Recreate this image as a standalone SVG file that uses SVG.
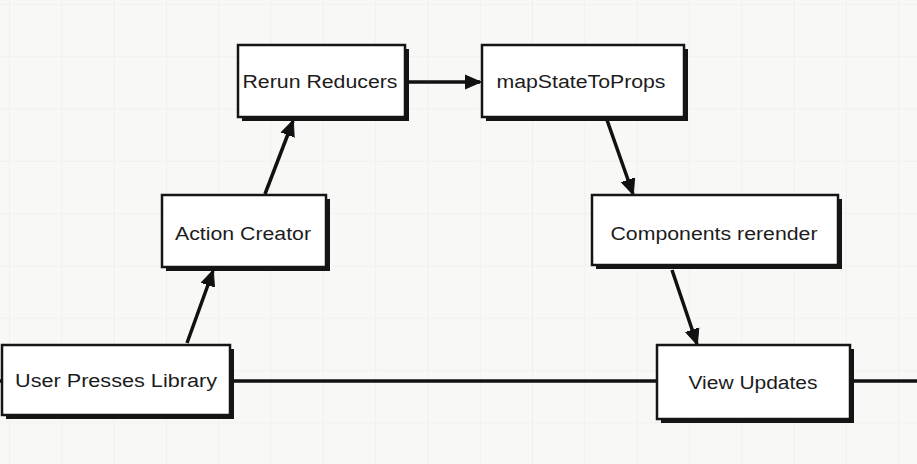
<svg xmlns="http://www.w3.org/2000/svg" width="917" height="464" viewBox="0 0 917 464">
<defs>
<pattern id="grid" x="9" y="4" width="52.3" height="52.3" patternUnits="userSpaceOnUse">
<path d="M0,0 H52.3 M0,0 V52.3" fill="none" stroke="#ebebe8" stroke-width="1.2"/>
</pattern>
<marker id="arr" viewBox="0 0 16 16" refX="15" refY="8" markerWidth="16" markerHeight="16" markerUnits="userSpaceOnUse" orient="auto">
<path d="M0,1 L16,8 L0,15 Z" fill="#111" stroke="#111" stroke-width="1" stroke-linejoin="round"/>
</marker>
<style>
.shadow{fill:#151515}
.box{fill:#ffffff;stroke:#151515;stroke-width:2.5}
.lbl{font-family:"Liberation Sans",Arial,sans-serif;font-size:18px;fill:#1c1c1c;text-anchor:middle}
.edge{fill:none;stroke:#111;stroke-width:3.5}
</style>
</defs>
<rect width="917" height="464" fill="#f8f8f6"/>
<rect width="917" height="464" fill="url(#grid)"/>

<g id="connectors">
<line class="edge" x1="230" y1="381" x2="657" y2="381"/>
<line class="edge" x1="850" y1="381" x2="917" y2="381"/>
<line class="edge" x1="0" y1="381" x2="3" y2="381"/>
<line class="edge" x1="187" y1="343" x2="213" y2="271" marker-end="url(#arr)"/>
<line class="edge" x1="265" y1="194" x2="293" y2="121" marker-end="url(#arr)"/>
<line class="edge" x1="407" y1="82" x2="480" y2="82" marker-end="url(#arr)"/>
<line class="edge" x1="607" y1="120" x2="633" y2="194" marker-end="url(#arr)"/>
<line class="edge" x1="672" y1="270" x2="697" y2="344" marker-end="url(#arr)"/>
</g>

<g id="rerun-reducers">
<rect class="shadow" x="242" y="49" width="167" height="72"/>
<rect class="box" x="238" y="45" width="167" height="72"/>
<text class="lbl" x="320" y="88" textLength="155" lengthAdjust="spacingAndGlyphs">Rerun Reducers</text>
</g>

<g id="map-state-to-props">
<rect class="shadow" x="486" y="49" width="202" height="72"/>
<rect class="box" x="482" y="45" width="202" height="72"/>
<text class="lbl" x="581" y="88" textLength="169" lengthAdjust="spacingAndGlyphs">mapStateToProps</text>
</g>

<g id="action-creator">
<rect class="shadow" x="166" y="199" width="164" height="72"/>
<rect class="box" x="162" y="195" width="164" height="72"/>
<text class="lbl" x="243" y="240" textLength="136" lengthAdjust="spacingAndGlyphs">Action Creator</text>
</g>

<g id="components-rerender">
<rect class="shadow" x="596" y="199" width="246" height="70"/>
<rect class="box" x="592" y="195" width="246" height="70"/>
<text class="lbl" x="714" y="240" textLength="207" lengthAdjust="spacingAndGlyphs">Components rerender</text>
</g>

<g id="user-presses-library">
<rect class="shadow" x="6" y="349" width="228" height="70"/>
<rect class="box" x="2" y="345" width="228" height="70"/>
<text class="lbl" x="116" y="387" textLength="202" lengthAdjust="spacingAndGlyphs">User Presses Library</text>
</g>

<g id="view-updates">
<rect class="shadow" x="661" y="349" width="193" height="74"/>
<rect class="box" x="657" y="345" width="193" height="74"/>
<text class="lbl" x="753" y="389" textLength="129" lengthAdjust="spacingAndGlyphs">View Updates</text>
</g>
</svg>
